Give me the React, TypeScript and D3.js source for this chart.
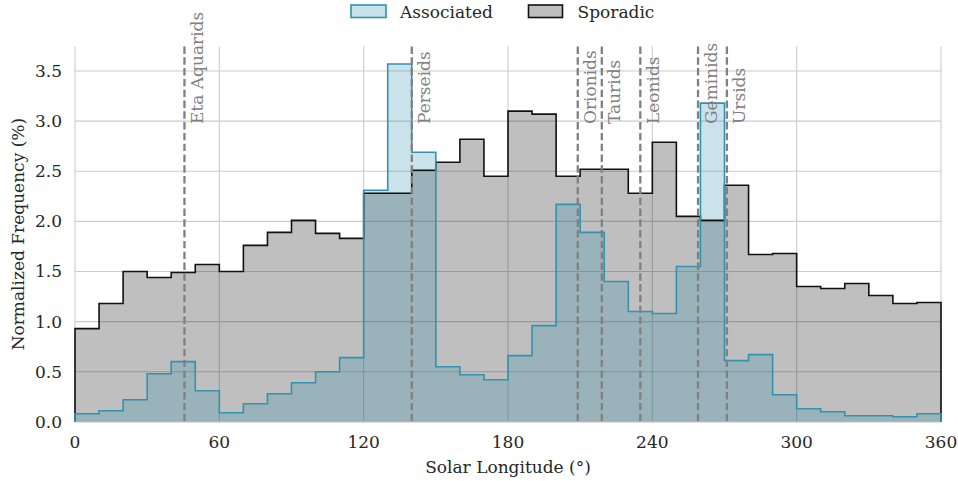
import React from 'react';
import * as d3 from 'd3';

// 10-degree bins of solar longitude
const binEdges = d3.range(0, 370, 10);
const sporadic = [
  0.93, 1.18, 1.50, 1.44, 1.49, 1.57, 1.50, 1.76, 1.89, 2.01, 1.88, 1.83,
  2.28, 2.28, 2.51, 2.59, 2.82, 2.45, 3.10, 3.07, 2.45, 2.52, 2.52, 2.28,
  2.79, 2.05, 2.01, 2.36, 1.67, 1.68, 1.35, 1.33, 1.38, 1.26, 1.18, 1.19,
];
const associated = [
  0.08, 0.11, 0.22, 0.48, 0.60, 0.31, 0.09, 0.18, 0.28, 0.39, 0.50, 0.64,
  2.31, 3.57, 2.69, 0.55, 0.47, 0.42, 0.66, 0.96, 2.17, 1.89, 1.40, 1.10,
  1.08, 1.55, 3.18, 0.61, 0.67, 0.27, 0.13, 0.10, 0.06, 0.06, 0.05, 0.08,
];
const showerNames = ['Eta Aquarids', 'Perseids', 'Orionids', 'Taurids', 'Leonids', 'Geminids', 'Ursids'];
const showerLongitudes = [45.5, 140, 209, 219, 235, 259, 271];
const xTicks = [0, 60, 120, 180, 240, 300, 360];
const yTicks = [0, 0.5, 1.0, 1.5, 2.0, 2.5, 3.0, 3.5];

const W = 958;
const H = 481;
const margin = { left: 75, right: 17, top: 46.5, bottom: 59.2 };
const FONT = '"DejaVu Serif", serif';
const FS = 17;
const TEXT = '#262626';
const TEAL = '#3193ad';

const x = d3.scaleLinear().domain([0, 360]).range([margin.left, W - margin.right]);
const y = d3.scaleLinear().domain([0, 3.745]).range([H - margin.bottom, margin.top]);

// outline of a histogram as a step path, closed down to the baseline
const stepPath = (vals: number[], closed: boolean) => {
  const pts: [number, number][] = [[binEdges[0], 0]];
  vals.forEach((v, i) => {
    pts.push([binEdges[i], v]);
    pts.push([binEdges[i + 1], v]);
  });
  pts.push([binEdges[binEdges.length - 1], 0]);
  const line = d3.line<[number, number]>().x(d => x(d[0])).y(d => y(d[1]));
  return line(pts) + (closed ? 'Z' : '');
};

const App: React.FC = () => {
  const [y0, y1] = y.range();
  return (
    <svg width={W} height={H} style={{ position: 'absolute', left: 0, top: 0, background: '#fff' }}
      fontFamily={FONT}>
      {/* grid */}
      {yTicks.map(t => (
        <line key={'gy' + t} x1={x(0)} x2={x(360)} y1={y(t)} y2={y(t)} stroke="#cccccc" strokeWidth={1.1} />
      ))}
      {xTicks.map(t => (
        <line key={'gx' + t} x1={x(t)} x2={x(t)} y1={y1} y2={y0} stroke="#cccccc" strokeWidth={1.1} />
      ))}

      {/* fills */}
      <path d={stepPath(sporadic, true)} fill="#000" fillOpacity={0.25} stroke="none" />
      <path d={stepPath(associated, true)} fill={TEAL} fillOpacity={0.26} stroke="none" />
      {/* outlines */}
      <path d={stepPath(sporadic, false)} fill="none" stroke="#111" strokeWidth={1.6} />
      <path d={stepPath(associated, false)} fill="none" stroke={TEAL} strokeWidth={1.6} />

      {/* bottom spine */}
      <line x1={x(0)} x2={x(360)} y1={y0 + 0.5} y2={y0 + 0.5} stroke="#e2e2e2" strokeWidth={1.3} />

      {/* shower markers */}
      {showerLongitudes.map((lon, i) => (
        <g key={showerNames[i]}>
          <line x1={x(lon)} x2={x(lon)} y1={y1} y2={y0} stroke="#808080" strokeWidth={2.3}
            strokeDasharray="7.4,3.4" />
          <text transform={`translate(${x(lon) + 18.5},124) rotate(-90)`} fontSize={FS} fill="#808080">
            {showerNames[i]}
          </text>
        </g>
      ))}

      {/* axes */}
      {xTicks.map(t => (
        <text key={'tx' + t} x={x(t)} y={448.3} textAnchor="middle" fontSize={FS} fill={TEXT}>{t}</text>
      ))}
      {yTicks.map(t => (
        <text key={'ty' + t} x={62} y={y(t)} dy="0.35em" textAnchor="end" fontSize={FS} fill={TEXT}>
          {t.toFixed(1)}
        </text>
      ))}
      <text x={(x(0) + x(360)) / 2} y={473} textAnchor="middle" fontSize={FS} fill={TEXT}>
        Solar Longitude (°)
      </text>
      <text transform={`translate(24,${(y0 + y1) / 2}) rotate(-90)`} textAnchor="middle" fontSize={FS} fill={TEXT}>
        Normalized Frequency (%)
      </text>

      {/* legend */}
      <rect x={351} y={5} width={35} height={12.5} fill="#c9e2e9" stroke={TEAL} strokeWidth={1.6} />
      <text x={400} y={18.3} fontSize={FS} fill={TEXT}>Associated</text>
      <rect x={528.5} y={5} width={34} height={12.5} fill="#bfbfbf" stroke="#111" strokeWidth={1.6} />
      <text x={577.5} y={18.3} fontSize={FS} fill={TEXT}>Sporadic</text>
    </svg>
  );
};

export default App;
